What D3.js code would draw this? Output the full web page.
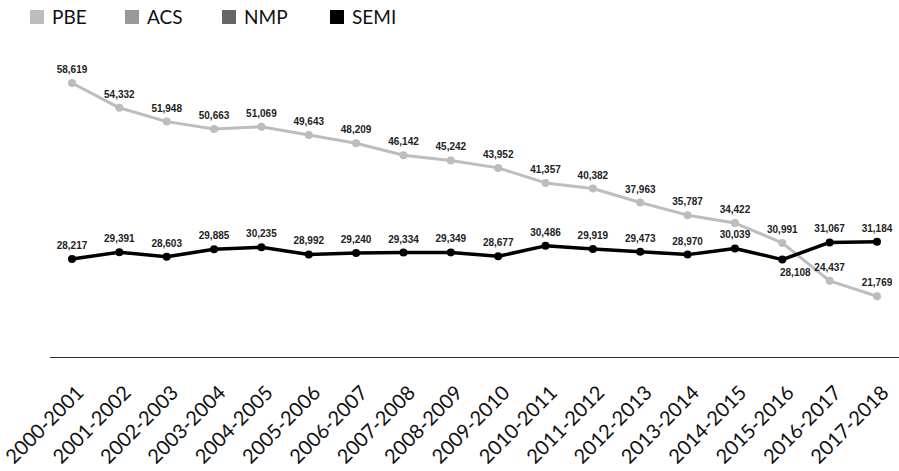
<!DOCTYPE html>
<html>
<head>
<meta charset="utf-8">
<script src="https://cdn.jsdelivr.net/npm/d3@7"></script>
<style>
  body { margin: 0; background: #fff; }
  svg { display: block; }
</style>
</head>
<body>
<svg id="chart" width="899" height="471"></svg>
<script>
var YEARS = ["2000-2001", "2001-2002", "2002-2003", "2003-2004", "2004-2005", "2005-2006",
    "2006-2007", "2007-2008", "2008-2009", "2009-2010", "2010-2011", "2011-2012",
    "2012-2013", "2013-2014", "2014-2015", "2015-2016", "2016-2017", "2017-2018"];

var PBE = [58619, 54332, 51948, 50663, 51069, 49643, 48209, 46142, 45242, 43952,
    41357, 40382, 37963, 35787, 34422, 30991, 24437, 21769];

var SEMI = [28217, 29391, 28603, 29885, 30235, 28992, 29240, 29334, 29349, 28677,
    30486, 29919, 29473, 28970, 30039, 28108, 31067, 31184];

var LEGEND = ["PBE", "ACS", "NMP", "SEMI"];
var COLORS = { PBE: "#bdbdbd", ACS: "#999999", NMP: "#666666", SEMI: "#000000" };

// which labels sit under their point
var BELOW = { SEMI: { "2015-2016": true } };

function main() {
    var svg = d3.select("#chart");

    var x = d3.scalePoint().domain(YEARS).range([72, 877]);
    var y = d3.scaleLinear().domain([0, 60000]).range([422.3, 75]);

    // legend
    var legendX = [30, 125, 222, 330];
    var legend = svg.selectAll(".legend")
        .data(LEGEND)
        .enter().append("g")
        .attr("class", "legend")
        .attr("transform", function(d, i) { return "translate(" + legendX[i] + ",10)"; });
    legend.append("rect")
        .attr("width", 14).attr("height", 14)
        .style("fill", function(d) { return COLORS[d]; });
    legend.append("text")
        .attr("x", 22).attr("y", 13.5)
        .style("font", "19px Lato")
        .style("fill", "#111")
        .text(function(d) { return d; });

    // axis line, tick labels drawn at 45 degrees
    var axis = svg.append("g")
        .attr("class", "axis")
        .attr("transform", "translate(0,357)")
        .call(d3.axisBottom(x).tickSize(0).tickFormat(""));
    axis.select(".domain").remove();
    svg.append("line")
        .attr("x1", 50).attr("x2", 899)
        .attr("y1", 357.5).attr("y2", 357.5)
        .style("stroke", "#333")
        .style("stroke-width", 1.2);

    svg.append("g").attr("class", "years")
        .selectAll("text")
        .data(x.domain())
        .enter().append("text")
        .attr("x", function(d) { return x(d) - 58; })
        .attr("y", 465)
        .attr("text-anchor", "start")
        .attr("transform", function(d) { return "rotate(-45," + (x(d) - 58) + ",465)"; })
        .style("font-family", "Lato")
        .style("font-size", "20px")
        .style("fill", "#111")
        .text(function(d) { return d; });

    var series = [
        { name: "PBE", values: PBE, width: 3 },
        { name: "SEMI", values: SEMI, width: 3.5 }
    ];

    var line = d3.line()
        .x(function(d) { return x(d.year); })
        .y(function(d) { return y(d.value); });

    series.forEach(function(s) {
        var pts = s.values.map(function(v, i) { return { year: YEARS[i], value: v }; });
        var g = svg.append("g").attr("class", "series " + s.name);
        g.append("path")
            .attr("d", line(pts))
            .style("fill", "none")
            .style("stroke", COLORS[s.name])
            .style("stroke-width", s.width)
            .style("stroke-linejoin", "round");
        g.selectAll("circle")
            .data(pts)
            .enter().append("circle")
            .attr("cx", function(d) { return x(d.year); })
            .attr("cy", function(d) { return y(d.value); })
            .attr("r", 4)
            .style("fill", COLORS[s.name]);
        g.selectAll(".label")
            .data(pts)
            .enter().append("text")
            .attr("class", "label")
            .attr("text-anchor", "middle")
            .attr("x", function(d) {
                var below = BELOW[s.name] && BELOW[s.name][d.year];
                return x(d.year) + (below ? 13 : 0);
            })
            .attr("y", function(d) {
                var below = BELOW[s.name] && BELOW[s.name][d.year];
                return y(d.value) + (below ? 16 : -10);
            })
            .style("font", "bold 10px 'Liberation Sans'")
            .style("fill", "#222")
            .text(function(d) { return d3.format(",")(d.value); });
    });
}

main();
</script>
</body>
</html>
